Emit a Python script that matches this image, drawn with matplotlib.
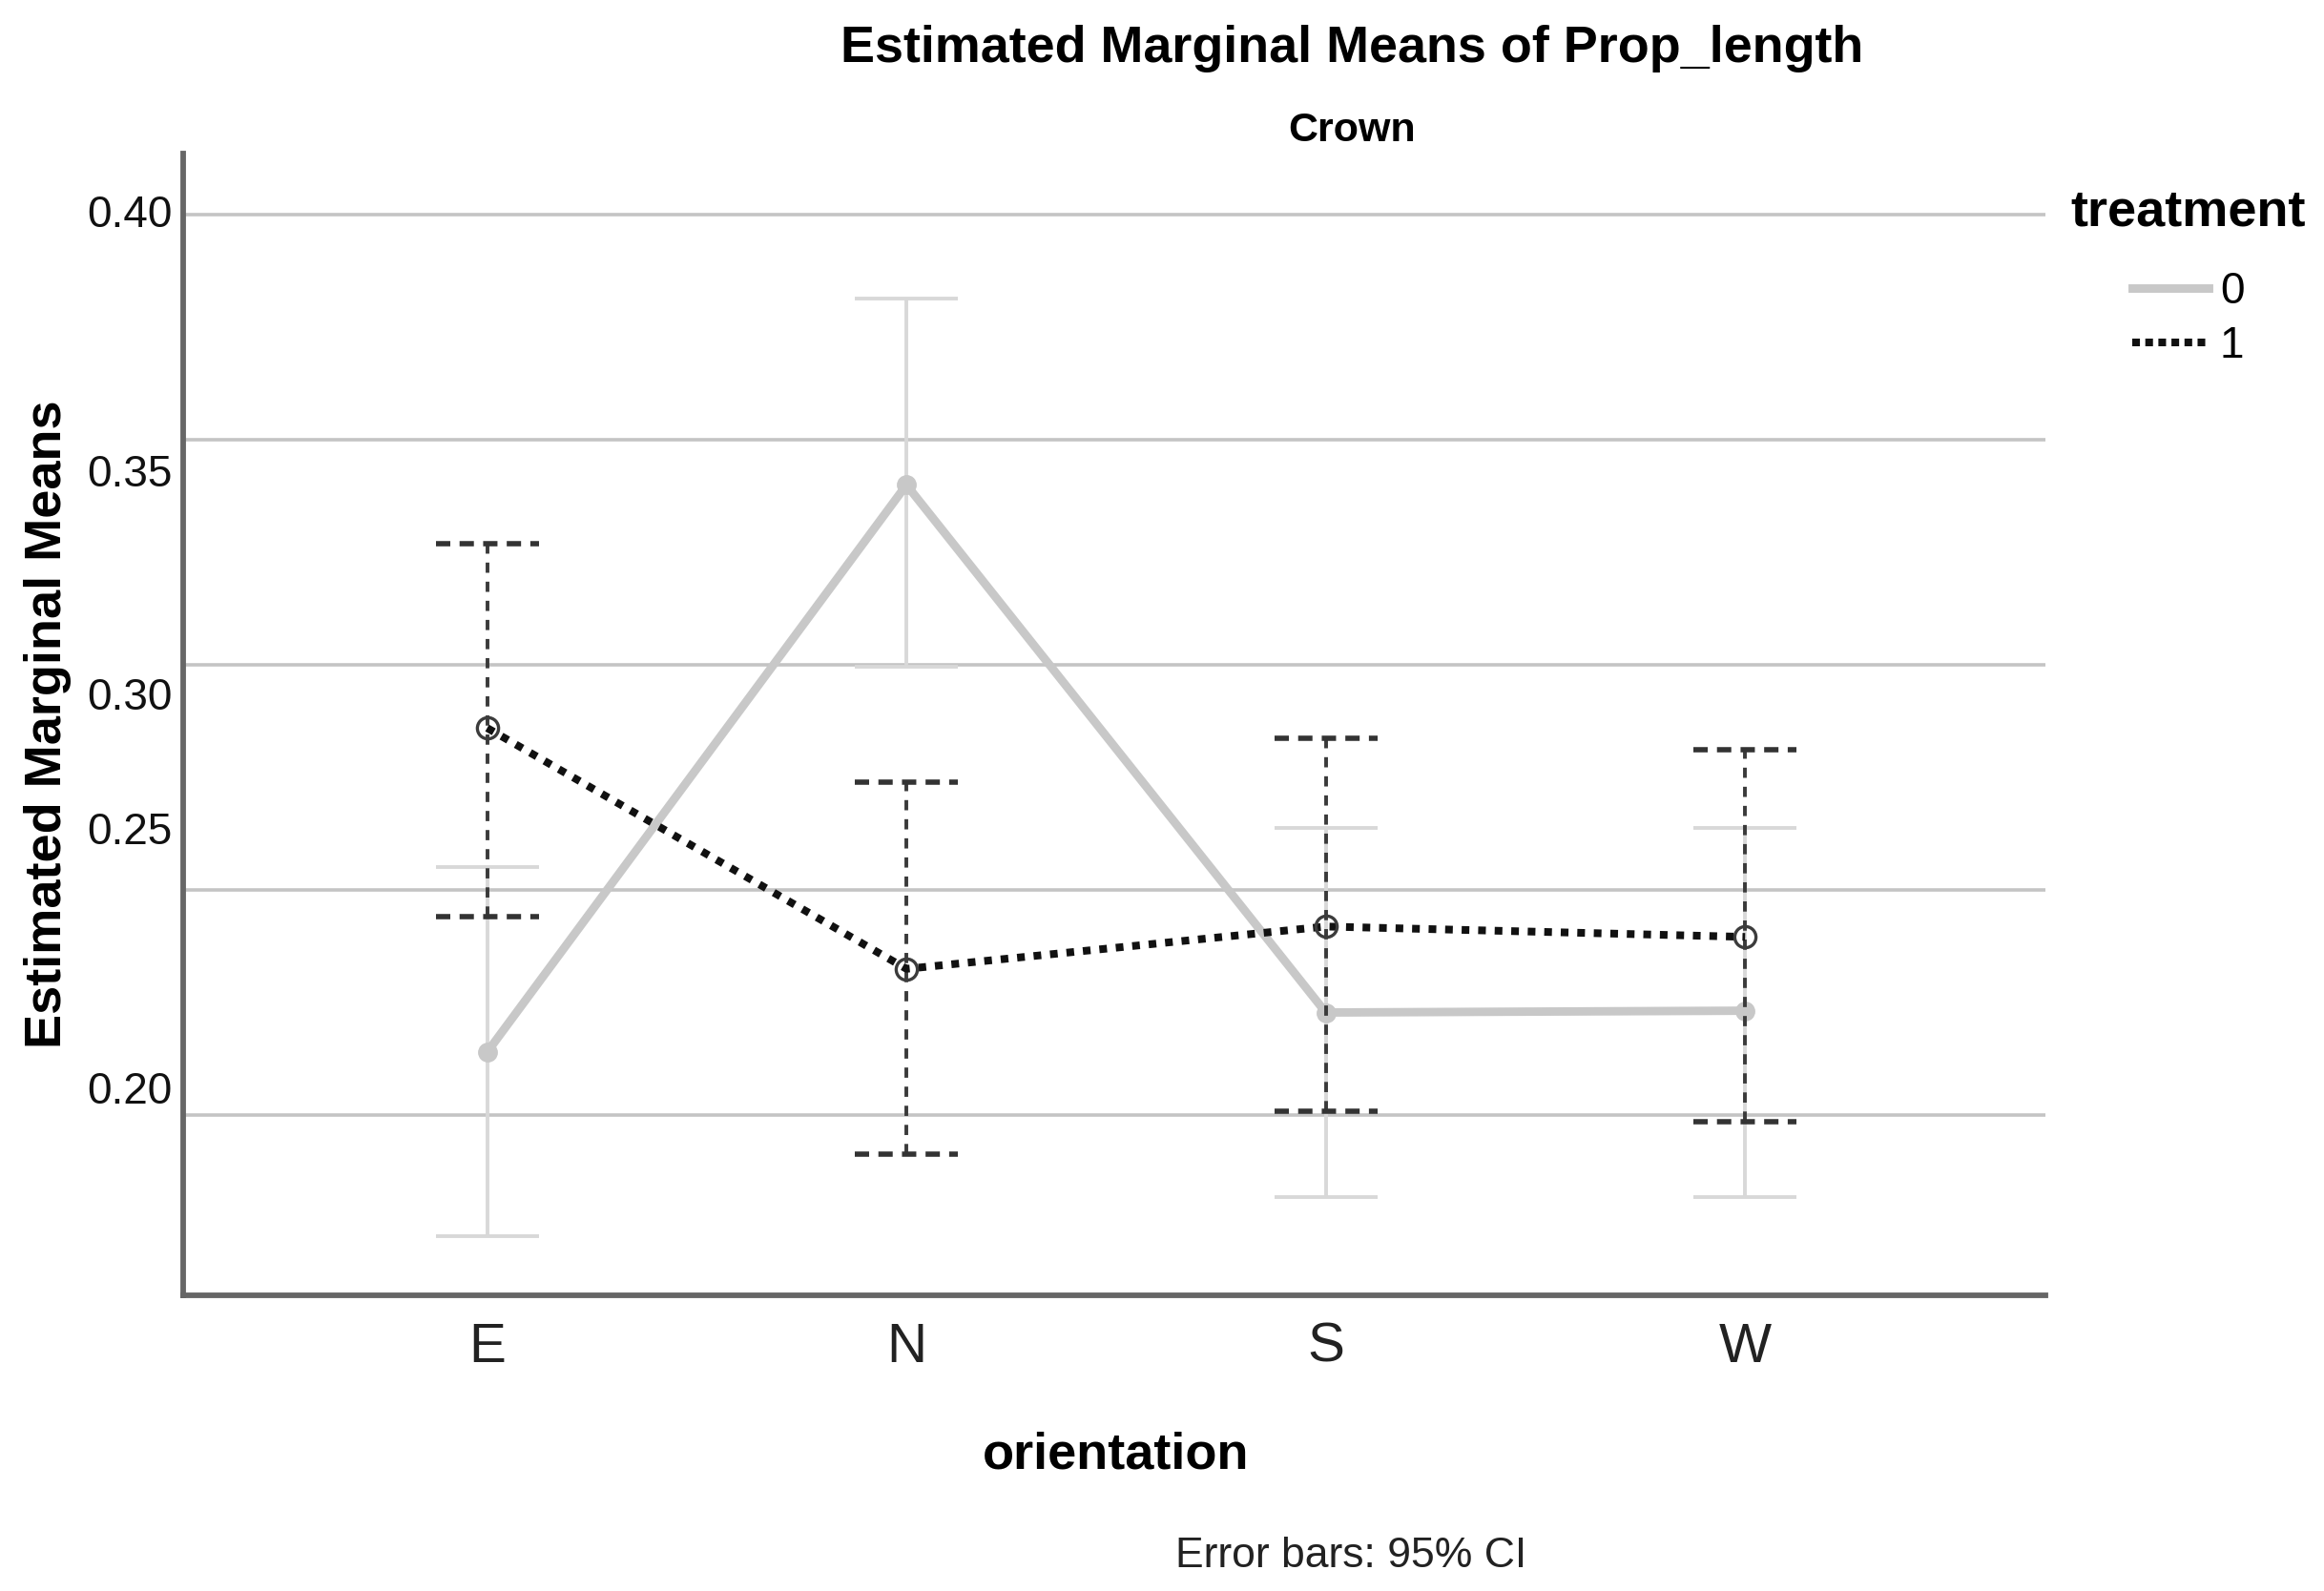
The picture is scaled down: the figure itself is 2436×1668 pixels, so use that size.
import matplotlib
matplotlib.use("Agg")
import matplotlib.pyplot as plt
from matplotlib.lines import Line2D
import numpy as np

plt.rcParams['font.family'] = ['Liberation Sans', 'DejaVu Sans']

# estimated marginal means
orientation = ['E', 'N', 'S', 'W']
mean_t0 = [0.2139, 0.3399, 0.2227, 0.2231]
low_t0 = [0.1731, 0.2995, 0.1818, 0.1818]
high_t0 = [0.2550, 0.3813, 0.2638, 0.2638]
mean_t1 = [0.2859, 0.2324, 0.2418, 0.2395]
low_t1 = [0.2441, 0.1913, 0.2008, 0.1985]
high_t1 = [0.3268, 0.2738, 0.2836, 0.2811]

# grid values and the (oddly placed) tick labels of the source figure
grid_vals = [0.20, 0.25, 0.30, 0.35, 0.40]
ytick_pos = [0.4008, 0.3432, 0.2935, 0.2636, 0.2061]
ytick_lab = ['0.40', '0.35', '0.30', '0.25', '0.20']

x = np.arange(len(orientation))
cap = 0.123

fig = plt.figure(figsize=(12.18, 8.34), dpi=200)
ax = fig.add_axes([0.0788, 0.1859, 0.8013, 0.7176])

ax.set_xlim(-0.725, 3.716)
ax.set_ylim(0.1599, 0.4135)

# gridlines
ax.set_yticks(grid_vals, minor=True)
ax.grid(which='minor', axis='y', color='#c4c4c4', lw=1.3, zorder=0)
ax.tick_params(axis='y', which='minor', length=0)
ax.set_yticks(ytick_pos)
ax.set_yticklabels(ytick_lab)
ax.tick_params(axis='y', which='major', length=0, pad=4, labelsize=16.5, labelcolor='#111111')

ax.set_xticks(x)
ax.set_xticklabels(orientation)
ax.tick_params(axis='x', length=0, pad=10, labelsize=21, labelcolor='#222222')

# treatment 0 : light grey, solid
ax.vlines(x, low_t0, high_t0, colors='#d8d8d8', lw=1.4, zorder=2)
ax.hlines(low_t0, x - cap, x + cap, colors='#d8d8d8', lw=1.4, zorder=2)
ax.hlines(high_t0, x - cap, x + cap, colors='#d8d8d8', lw=1.4, zorder=2)
ax.plot(x, mean_t0, color='#c8c8c8', lw=3.2, marker='o', ms=6.5,
        mfc='#c8c8c8', mec='#c8c8c8', zorder=3)

# treatment 1 : black, dotted
ax.vlines(x, low_t1, high_t1, colors='#3a3a3a', lw=1.4,
          linestyles=[(0, (2.75, 2.4))], zorder=4)
ax.hlines(low_t1, x - cap, x + cap, colors='#333333', lw=2.0,
          linestyles=[(0, (2.7, 1.75))], zorder=4)
ax.hlines(high_t1, x - cap, x + cap, colors='#333333', lw=2.0,
          linestyles=[(0, (2.7, 1.75))], zorder=4)
ax.plot(x, mean_t1, color='#111111', lw=2.9, ls=(0, (1, 1.15)),
        dash_capstyle='butt', zorder=5)
ax.plot(x, mean_t1, ls='none', marker='o', ms=8, mfc='none',
        mec='#3c3c3c', mew=1.2, zorder=6)

for side in ['top', 'right']:
    ax.spines[side].set_visible(False)
for side in ['left', 'bottom']:
    ax.spines[side].set_color('#666666')
    ax.spines[side].set_linewidth(2.1)

ax.set_xlabel('orientation', fontsize=19.5, fontweight='bold', va='baseline')
ax.xaxis.set_label_coords(0.5008, -0.152)
ax.set_ylabel('Estimated Marginal Means', fontsize=19.5, fontweight='bold',
              va='center')
ax.yaxis.set_label_coords(-0.0727, 0.5)

fig.text(0.5819, 0.9610, 'Estimated Marginal Means of Prop_length',
         ha='center', va='baseline', fontsize=19.4, fontweight='bold')
fig.text(0.5819, 0.9113, 'Crown', ha='center', va='baseline',
         fontsize=15.5, fontweight='bold')
fig.text(0.5815, 0.0150, 'Error bars: 95% CI', ha='center', va='baseline',
         fontsize=16, color='#222222')

# legend
fig.text(0.8908, 0.8581, 'treatment', ha='left', va='baseline',
         fontsize=19.5, fontweight='bold')
h0 = Line2D([], [], color='#c8c8c8', lw=3.2)
h1 = Line2D([], [], color='#111111', lw=2.9, ls=(0, (1, 0.7)), dash_capstyle='butt')
ax.legend([h0, h1], ['0', '1'], loc='upper left',
          bbox_to_anchor=(0.9175, 0.8300), bbox_transform=fig.transFigure,
          frameon=False, borderpad=0, borderaxespad=0, fontsize=16.5,
          handlelength=1.745, handletextpad=0.26, labelspacing=0.29)

fig.savefig('out.png', dpi=200)
